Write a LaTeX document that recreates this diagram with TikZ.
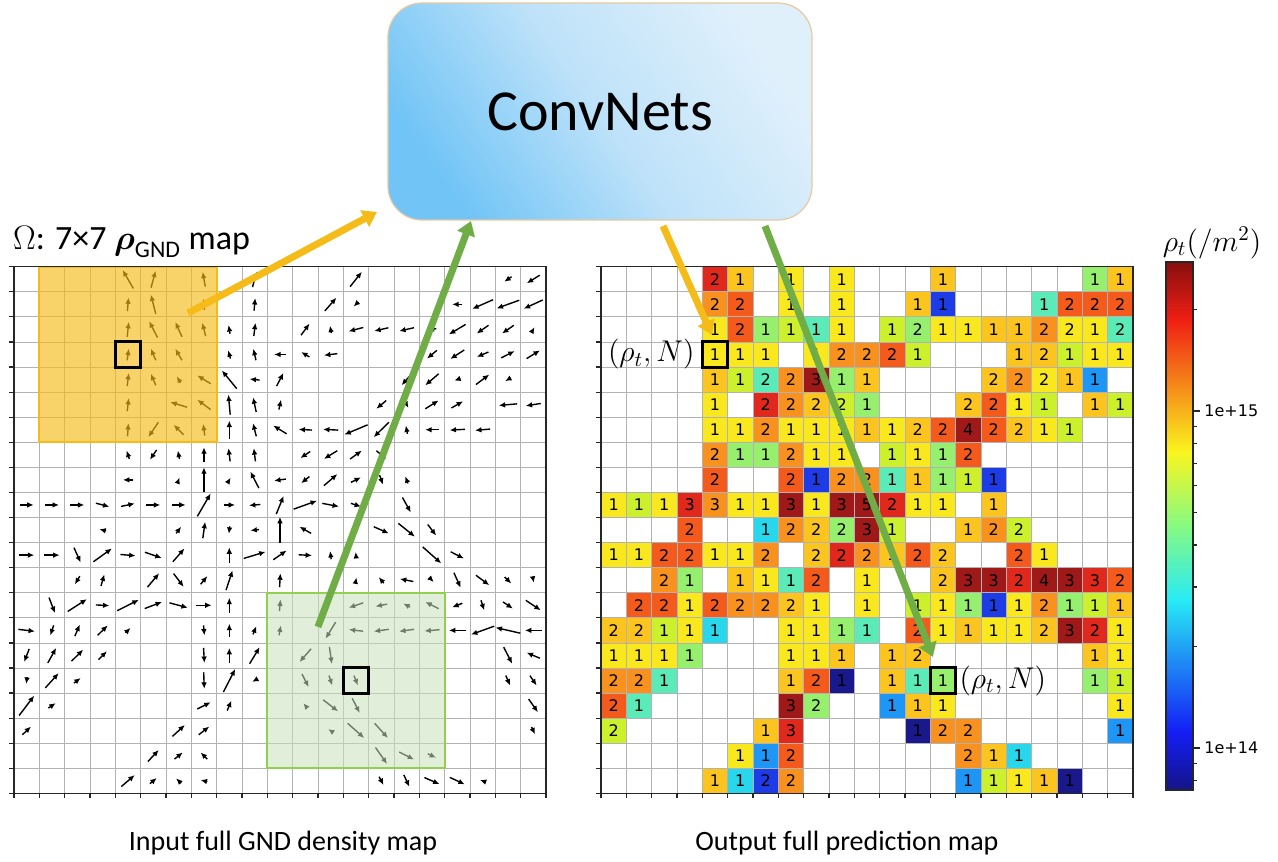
\RequirePackage{fix-cm}
\documentclass[tikz,border=0pt]{standalone}
\usepackage{amsmath}
\usepackage{fontspec}
\setmainfont{Carlito}
\newfontfamily\dejavu{DejaVu Sans}
\usetikzlibrary{arrows.meta,positioning}

\definecolor{cellN}{RGB}{25,25,140}
\definecolor{cellB}{RGB}{30,60,230}
\definecolor{cellS}{RGB}{30,150,245}
\definecolor{cellC}{RGB}{40,215,235}
\definecolor{cellA}{RGB}{90,235,185}
\definecolor{cellG}{RGB}{150,240,110}
\definecolor{cellY}{RGB}{205,240,45}
\definecolor{cellE}{RGB}{250,232,30}
\definecolor{cellO}{RGB}{252,196,30}
\definecolor{cellR}{RGB}{248,145,30}
\definecolor{cellT}{RGB}{243,90,28}
\definecolor{cellD}{RGB}{225,40,28}
\definecolor{cellM}{RGB}{160,25,25}
\definecolor{jet0}{RGB}{20,20,135}
\definecolor{jet1}{RGB}{20,30,245}
\definecolor{jet2}{RGB}{40,235,245}
\definecolor{jet3}{RGB}{135,250,130}
\definecolor{jet4}{RGB}{250,245,30}
\definecolor{jet5}{RGB}{240,30,20}
\definecolor{jet6}{RGB}{135,15,15}
\definecolor{gold}{RGB}{245,187,25}
\definecolor{leaf}{RGB}{112,173,71}
\definecolor{gbox}{RGB}{200,225,188}
\definecolor{gedge}{RGB}{146,208,80}
\definecolor{skyA}{RGB}{112,196,246}
\definecolor{skyM}{RGB}{190,226,249}
\definecolor{skyB}{RGB}{224,240,251}
\definecolor{tanedge}{RGB}{232,200,160}

\begin{document}
\begin{tikzpicture}[x=0.5pt,y=-0.5pt,
    gridln/.style={black!30,line width=0.4pt},
    axisln/.style={black!85,line width=0.6pt},
    vec/.style={-{Latex[length=3.2pt,width=2.8pt]},line width=0.7pt},
    pick/.style={draw,line width=1.5pt,minimum width=12.665pt,minimum height=12.54pt,inner sep=0pt},
    num/.style={font=\dejavu\fontsize{8}{9}\selectfont,inner sep=0pt},
    fat/.style={line width=3.5pt,-{Triangle[length=7pt,width=9pt]}},
    captext/.style={font=\fontsize{14}{17}\selectfont}]
  \useasboundingbox (0,0) rectangle (1278,861);

  \node[draw=tanedge,line width=0.6pt,rounded corners=17pt,left color=skyA,right color=skyB,middle color=skyM,shading angle=125,
    minimum width=212pt,minimum height=108.5pt,font=\fontsize{29}{33}\selectfont] (cnn) at (600,111.5) {ConvNets};
  \coordinate (cnnL) at (377,212);
  \coordinate (cnnB) at (471,221);
  \coordinate (cnnR1) at (663,226);
  \coordinate (cnnR2) at (765,226);

  \node[anchor=west,font=\fontsize{17}{20}\selectfont] (ttl) at (6,242)
    {$\Omega$: 7×7 $\boldsymbol{\rho}_{\mathrm{GND}}$ map};

  % input map
  \begin{scope}[shift={(14,266.7)},x=12.665pt,y=-12.54pt]
    \foreach \i in {1,...,20} \draw[gridln] (\i,0) -- (\i,21) (0,\i) -- (21,\i);
    \foreach \c/\r/\a/\l in {4/0/120/.85, 5/0/75/.7, 7/0/100/.6, 9/0/75/.65, 13/0/52/.75, 19/0/215/.35, 20/0/212/.6,
        4/1/85/.55, 5/1/104/.8, 7/1/95/.45, 9/1/85/.5, 12/1/49/.7, 13/1/225/.25, 17/1/180/.4, 18/1/204/.9, 19/1/200/.95, 20/1/205/.83,
        4/2/84/.6, 5/2/117/.73, 6/2/114/.65, 7/2/104/.55, 8/2/100/.35, 9/2/83/.53, 11/2/54/.57, 12/2/100/.3, 13/2/195/.6, 14/2/193/.57, 15/2/193/.6, 16/2/190/.35, 17/2/211/.77, 18/2/215/.57, 19/2/215/.57, 20/2/60/.2,
        4/3/82/.47, 5/3/113/.5, 6/3/120/.53, 8/3/106/.34, 9/3/103/.47, 10/3/180/.46, 11/3/149/.38, 12/3/187/.53, 16/3/220/.51, 17/3/213/.66, 18/3/203/.5, 19/3/27/.59, 20/3/32/.62,
        4/4/83/.53, 5/4/113/.5, 6/4/117/.3, 7/4/148/.62, 8/4/129/.93, 9/4/174/.4, 10/4/63/.59, 15/4/229/.6, 16/4/221/.7, 17/4/200/.25, 18/4/37/.66, 19/4/210/.25,
        4/5/83/.53, 6/5/163/.69, 7/5/143/.66, 8/5/95/.8, 9/5/102/.6, 10/5/78/.4, 14/5/220/.51, 15/5/-60/.3, 16/5/32/.62, 17/5/30/.53, 19/5/185/.73, 20/5/189/.6,
        4/6/86/.53, 5/6/236/.71, 6/6/135/.56, 7/6/98/.47, 8/6/90/.72, 9/6/104/.54, 10/6/148/.62, 11/6/177/.53, 12/6/177/.6, 13/6/203/1, 14/6/225/.84, 15/6/101/.34, 16/6/180/.53, 17/6/183/.6, 18/6/185/.6,
        4/7/108/.35, 5/7/236/.47, 6/7/101/.34, 7/7/90/.6, 8/7/97/.53, 9/7/97/.53, 11/7/214/.47, 12/7/212/.62, 13/7/36/.57, 14/7/-40/.5,
        4/8/180/.4, 6/8/70/.2, 7/8/90/1, 8/8/60/.2, 9/8/117/.74, 10/8/188/.47, 11/8/219/.42, 12/8/41/.7, 13/8/27/.44, 14/8/-70/.4, 15/8/110/.3,
        0/9/0/.55, 1/9/0/.55, 2/9/0/.55, 3/9/-15/.55, 4/9/12/.55, 5/9/0/.55, 6/9/0/.55, 7/9/60/1.05, 8/9/0/.45, 9/9/185/.45, 10/9/68/.78, 11/9/20/.98, 12/9/-11/.67, 13/9/-18/.42, 15/9/-61/.68,
        3/10/166/.27, 6/10/53/.33, 7/10/82/.66, 8/10/263/.3, 9/10/187/.33, 10/10/90/1.05, 11/10/150/.53, 14/10/-24/.65, 15/10/-39/.84, 16/10/-53/.55,
        0/11/0/.6, 1/11/0/.6, 2/11/-66/.65, 3/11/36/.9, 4/11/-5/.6, 5/11/-19/.7, 6/11/49/.7, 8/11/90/.62, 9/11/17/.9, 10/11/35/.64, 11/11/-3/.53, 12/11/97/.33, 13/11/95/.25, 16/11/-42/.98, 17/11/-27/.59,
        2/12/239/.38, 3/12/74/.48, 5/12/50/.72, 6/12/-53/.66, 7/12/51/.42, 8/12/72/.83, 10/12/87/.55, 13/12/80/.22, 14/12/130/.31, 15/12/169/.54, 16/12/-45/.2, 17/12/-66/.65, 18/12/-37/.66, 19/12/-45/.37, 20/12/-80/.2,
        1/13/-69/.66, 2/13/33/.9, 3/13/-3/.53, 4/13/27/.96, 5/13/21/.73, 6/13/-15/.75, 7/13/0/.6, 8/13/90/.6, 10/13/85/.47, 13/13/199/.6, 14/13/191/.47, 15/13/153/.3, 16/13/153/.59, 17/13/202/.43, 18/13/-72/.42, 19/13/-34/.47, 20/13/-34/.71,
        0/14/-7/.66, 1/14/252/.42, 2/14/67/.5, 3/14/45/.56, 4/14/45/.28, 7/14/-85/.4, 8/14/90/.53, 9/14/68/.35, 10/14/80/.4, 12/14/239/.77, 13/14/173/.57, 14/14/188/.6, 15/14/188/.6, 16/14/185/.6, 17/14/180/.66, 18/14/200/.98, 19/14/167/1, 20/14/180/.66,
        0/15/249/.56, 1/15/61/.68, 2/15/45/.65, 3/15/45/.47, 7/15/-87/.6, 8/15/90/.6, 9/15/59/.77, 11/15/229/.7, 12/15/-82/.69, 19/15/-63/.74, 20/15/157/.57,
        0/16/-98/.27, 1/16/48/.79, 2/16/37/.33, 7/16/-88/.66, 8/16/63/1.03, 9/16/210/.22, 11/16/-63/.59, 12/16/-72/.42, 13/16/-68/.42, 19/16/-67/.43, 20/16/-56/.47,
        0/17/53/.99, 1/17/34/.35, 7/17/27/.59, 8/17/67/.43, 11/17/129/.25, 12/17/-38/.75, 13/17/-63/.66, 20/17/-55/.64,
        0/18/44/.47, 6/18/43/.67, 7/18/38/.53, 12/18/146/.24, 13/18/-42/.88, 14/18/-48/.79, 20/18/-65/.32,
        5/19/47/.63, 6/19/39/.42, 7/19/135/.37, 14/19/-55/.8, 15/19/-27/.66, 16/19/-26/.36,
        4/20/41/.7, 5/20/40/.35, 6/20/135/.28, 7/20/166/.27, 14/20/-62/.37, 15/20/-65/.52, 16/20/-24/.65, 17/20/-25/.65, 18/20/160/.22}
      \draw[vec] (\c+.5,\r+.5) ++({180-(\a)}:\l/2) -- ++({-(\a)}:\l);
    \fill[gold,fill opacity=.65] (1,0) rectangle (8,7);
    \draw[gold,line width=1pt] (1,0) rectangle (8,7);
    \fill[gbox,fill opacity=.55] (10,13) rectangle (17,20);
    \draw[gedge,line width=1pt] (10,13) rectangle (17,20);
    \draw[axisln] (0,0) rectangle (21,21);
    \foreach \i in {0,...,21} \draw[axisln] (\i,21) -- (\i,21.2) (0,\i) -- (-.2,\i);
    \node[pick] (inO) at (4.5,3.5) {};
    \node[pick] (inG) at (13.5,16.5) {};
    \coordinate (inOc) at (6.87,1.85);
    \coordinate (inGc) at (12,14.36);
  \end{scope}

  % output map
  \begin{scope}[shift={(601,266.7)},x=12.665pt,y=-12.54pt]
    \foreach \r/\c/\v/\k in {0/4/2/D, 0/5/1/O, 0/7/1/E, 0/9/1/E, 0/13/1/O, 0/19/1/G, 0/20/1/O,
        1/4/2/R, 1/5/2/T, 1/7/1/E, 1/9/1/E, 1/12/1/O, 1/13/1/B, 1/17/1/A, 1/18/2/T, 1/19/2/T, 1/20/2/T,
        2/4/1/E, 2/5/2/T, 2/6/1/G, 2/7/1/Y, 2/8/1/A, 2/9/1/E, 2/11/1/Y, 2/12/2/G, 2/13/1/E, 2/14/1/E, 2/15/1/O, 2/16/1/O, 2/17/2/R, 2/18/2/E, 2/19/1/E, 2/20/2/A,
        3/4/1/E, 3/5/1/E, 3/6/1/E, 3/8/1/E, 3/9/2/R, 3/10/2/R, 3/11/2/T, 3/12/1/Y, 3/16/1/O, 3/17/2/O, 3/18/1/Y, 3/19/1/E, 3/20/1/E,
        4/4/1/O, 4/5/1/Y, 4/6/2/A, 4/7/2/R, 4/8/3/M, 4/9/1/G, 4/10/1/O, 4/15/2/O, 4/16/2/R, 4/17/2/E, 4/18/1/O, 4/19/1/S,
        5/4/1/E, 5/6/2/D, 5/7/2/R, 5/8/2/O, 5/9/2/Y, 5/10/1/G, 5/14/2/O, 5/15/2/T, 5/16/1/E, 5/17/1/Y, 5/19/1/O, 5/20/1/Y,
        6/4/1/E, 6/5/1/E, 6/6/2/R, 6/7/1/E, 6/8/1/E, 6/9/1/E, 6/10/1/O, 6/11/1/E, 6/12/2/O, 6/13/2/T, 6/14/4/M, 6/15/2/T, 6/16/2/O, 6/17/1/E, 6/18/1/Y,
        7/4/2/R, 7/5/1/G, 7/6/1/G, 7/7/2/R, 7/8/1/E, 7/9/1/E, 7/11/1/Y, 7/12/1/E, 7/13/1/G, 7/14/2/T,
        8/4/2/T, 8/7/2/T, 8/8/1/B, 8/9/2/R, 8/10/2/R, 8/11/1/A, 8/12/1/O, 8/13/1/G, 8/14/1/Y, 8/15/1/B,
        9/0/1/E, 9/1/1/Y, 9/2/1/E, 9/3/3/D, 9/4/3/R, 9/5/1/E, 9/6/1/E, 9/7/3/M, 9/8/1/E, 9/9/3/M, 9/10/5/M, 9/11/2/D, 9/12/1/E, 9/13/1/E, 9/15/1/O,
        10/3/2/T, 10/6/1/C, 10/7/2/R, 10/8/2/O, 10/9/2/G, 10/10/3/M, 10/11/1/Y, 10/14/1/O, 10/15/2/R, 10/16/2/Y,
        11/0/1/E, 11/1/1/E, 11/2/2/T, 11/3/2/T, 11/4/1/E, 11/5/1/E, 11/6/2/R, 11/8/2/O, 11/9/2/D, 11/10/2/R, 11/11/1/O, 11/12/2/T, 11/13/2/O, 11/16/2/T, 11/17/1/E,
        12/2/2/R, 12/3/1/G, 12/5/1/O, 12/6/1/E, 12/7/1/A, 12/8/2/T, 12/10/1/E, 12/13/2/O, 12/14/3/M, 12/15/3/M, 12/16/2/D, 12/17/4/M, 12/18/3/M, 12/19/3/D, 12/20/2/T,
        13/1/2/T, 13/2/2/T, 13/3/1/E, 13/4/2/T, 13/5/2/R, 13/6/2/R, 13/7/2/O, 13/8/1/E, 13/10/1/E, 13/12/1/Y, 13/13/1/E, 13/14/1/G, 13/15/1/B, 13/16/1/E, 13/17/2/R, 13/18/1/G, 13/19/1/Y, 13/20/1/O,
        14/0/2/O, 14/1/2/O, 14/2/1/Y, 14/3/1/E, 14/4/1/C, 14/7/1/E, 14/8/1/E, 14/9/1/G, 14/10/1/A, 14/12/2/T, 14/13/1/E, 14/14/1/O, 14/15/1/E, 14/16/1/E, 14/17/2/O, 14/18/3/M, 14/19/2/D, 14/20/1/E,
        15/0/1/E, 15/1/1/E, 15/2/1/E, 15/3/1/G, 15/7/1/E, 15/8/1/E, 15/9/1/O, 15/11/1/O, 15/12/2/O, 15/19/1/O, 15/20/1/E,
        16/0/2/R, 16/1/2/R, 16/2/1/A, 16/7/1/O, 16/8/2/T, 16/9/1/N, 16/11/1/O, 16/12/1/A, 16/13/1/G, 16/19/1/G, 16/20/1/Y,
        17/0/2/T, 17/1/1/A, 17/7/3/M, 17/8/2/G, 17/11/1/S, 17/12/1/O, 17/13/1/E, 17/20/1/E,
        18/0/2/Y, 18/6/1/O, 18/7/3/D, 18/12/1/N, 18/13/2/R, 18/14/2/R, 18/20/1/S,
        19/5/1/E, 19/6/1/S, 19/7/2/T, 19/14/2/R, 19/15/1/O, 19/16/1/C,
        20/4/1/O, 20/5/1/C, 20/6/2/B, 20/7/2/R, 20/14/1/S, 20/15/1/Y, 20/16/1/E, 20/17/1/O, 20/18/1/N} {
      \fill[cell\k] (\c,\r) rectangle ++(1,1);
      \node[num] (v\r-\c) at (\c+.5,\r+.5) {\v};
    }
    \foreach \i in {1,...,20} \draw[gridln] (\i,0) -- (\i,21) (0,\i) -- (21,\i);
    \draw[axisln] (0,0) rectangle (21,21);
    \foreach \i in {0,...,21} \draw[axisln] (\i,21) -- (\i,21.2) (0,\i) -- (-.2,\i);
    \node[pick] (outO) at (4.5,3.5) {};
    \node[pick] (outG) at (13.5,16.5) {};
    \coordinate (outOt) at (4.38,2.72);
    \coordinate (outGt) at (13.1,15.56);
  \end{scope}
  \node[left=3pt of outO,font=\fontsize{15}{18}\selectfont,inner sep=0pt] (lblO) {$(\rho_t,N)$};
  \node[right=1pt of outG,font=\fontsize{15}{18}\selectfont,inner sep=0pt] (lblG) {$(\rho_t,N)$};

  % colour bar
  \foreach \ya/\yb/\ca/\cb in {790/731.5/jet0/jet1, 732/599.5/jet1/jet2, 600/525.5/jet2/jet3,
      526/451.5/jet3/jet4, 452/319.5/jet4/jet5, 320/262/jet5/jet6}
    \shade[bottom color=\ca,top color=\cb] (1166,\ya) rectangle (1193,\yb);
  \draw[axisln] (1166,262) rectangle (1193,790);
  \foreach \y in {411,748} \draw[axisln] (1193,\y) -- ++(7,0);
  \foreach \y in {309.6,426.4,443.7,463.2,485.8,512.4,545,587,646.6,763.4,780.7} \draw[axisln] (1193,\y) -- ++(4,0);
  \node[num,anchor=west] (t15) at (1204,411) {1e+15};
  \node[num,anchor=west] (t14) at (1204,748) {1e+14};
  \node[font=\fontsize{15}{18}\selectfont] (cbl) at (1212,243) {$\rho_t(/m^2)$};

  \draw[fat,gold] (inOc) -- (cnnL);
  \draw[fat,leaf] (inGc) -- (cnnB);
  \draw[fat,gold] (cnnR1) -- (outOt);
  \draw[fat,leaf] (cnnR2) -- (outGt);

  \node[captext] (incap) at (283,843) {Input full GND density map};
  \node[captext] (outcap) at (847,843) {Output full prediction map};
\end{tikzpicture}
\end{document}
